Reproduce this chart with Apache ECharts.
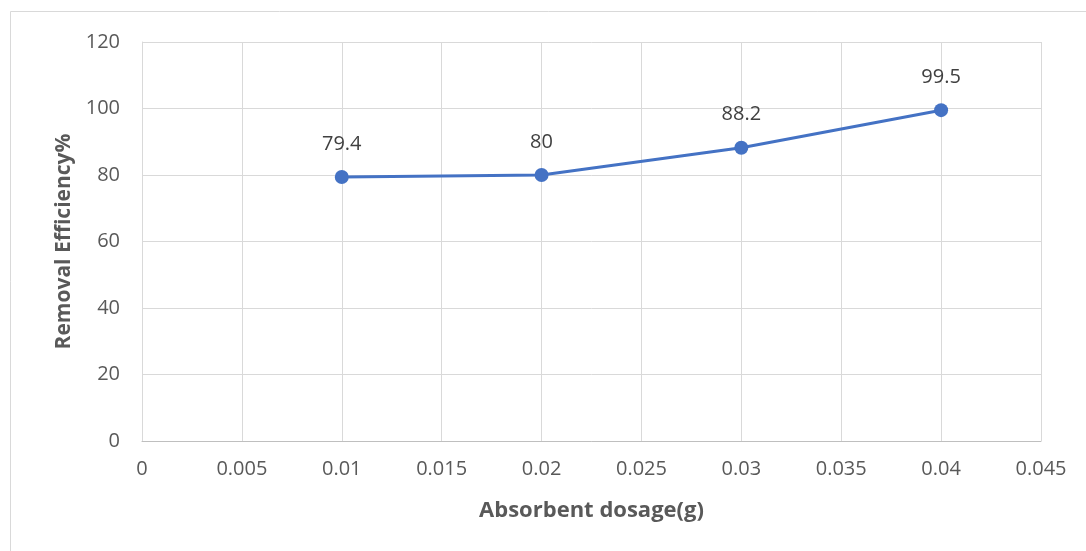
<!DOCTYPE html>
<html><head><meta charset="utf-8">
<script src="https://cdn.jsdelivr.net/npm/echarts@6/dist/echarts.min.js"></script>
<style>html,body{margin:0;padding:0;background:#fff}#c{width:1086px;height:551px}</style>
</head><body><div id="c"></div>
<script>
const dosage = [0.01, 0.02, 0.03, 0.04];
const efficiency = [79.4, 80, 88.2, 99.5];
const xTitle = 'Absorbent dosage(g)';
const yTitle = 'Removal Efficiency%';

const chart = echarts.init(document.getElementById('c'));
const font = '"Open Sans", sans-serif';
chart.setOption({
  animation: false,
  backgroundColor: '#fff',
  graphic: [{type:'rect', shape:{x:10.5,y:11.5,width:1200,height:700}, style:{fill:'none', stroke:'#d9d9d9', lineWidth:1}, silent:true}],
  grid: {left: 142, right: 45, top: 42, bottom: 110, containLabel: false},
  xAxis: {
    type: 'value', min: 0, max: 0.045, interval: 0.005,
    name: xTitle, nameLocation: 'middle', nameGap: 59,
    nameTextStyle: {fontFamily: font, fontSize: 22, fontWeight: 'bold', color: '#595959'},
    axisLine: {show: true, lineStyle: {color: '#bfbfbf', width: 1}},
    axisTick: {show: false},
    splitLine: {show: true, lineStyle: {color: '#d9d9d9', width: 1}},
    axisLabel: {fontFamily: font, fontSize: 20, color: '#595959', margin: 18,
      formatter: v => String(parseFloat(v.toFixed(4)))}
  },
  yAxis: {
    type: 'value', min: 0, max: 120, interval: 20,
    name: yTitle, nameLocation: 'middle', nameGap: 66, nameRotate: 90,
    nameTextStyle: {fontFamily: font, fontSize: 21, fontWeight: 'bold', color: '#595959'},
    axisLine: {show: true, lineStyle: {color: '#d9d9d9', width: 1}},
    axisTick: {show: false},
    splitLine: {show: true, lineStyle: {color: '#d9d9d9', width: 1}},
    axisLabel: {fontFamily: font, fontSize: 20, color: '#595959', margin: 22}
  },
  series: [{
    type: 'line',
    data: dosage.map((d, i) => [d, efficiency[i]]),
    symbol: 'circle', symbolSize: 14,
    lineStyle: {color: '#4472C4', width: 3},
    itemStyle: {color: '#4472C4'},
    label: {show: true, position: 'top', distance: 16, fontFamily: font, fontSize: 20, color: '#404040',
      formatter: p => String(p.value[1])}
  }]
});
</script></body></html>
